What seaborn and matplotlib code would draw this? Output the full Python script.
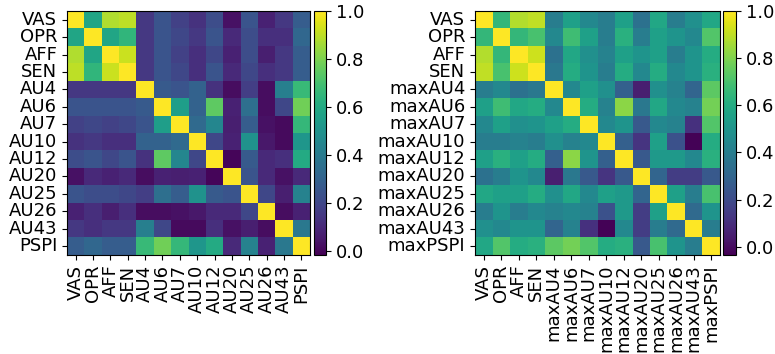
import numpy as np
import pandas as pd
import matplotlib
matplotlib.use("Agg")
import matplotlib.pyplot as plt
import seaborn as sns

labels_left = ["VAS", "OPR", "AFF", "SEN", "AU4", "AU6", "AU7", "AU10",
               "AU12", "AU20", "AU25", "AU26", "AU43", "PSPI"]
labels_right = ["VAS", "OPR", "AFF", "SEN", "maxAU4", "maxAU6", "maxAU7", "maxAU10",
                "maxAU12", "maxAU20", "maxAU25", "maxAU26", "maxAU43", "maxPSPI"]

# correlation of frame-level scores
corr_left = [
    [1.00, 0.58, 0.88, 0.90, 0.15, 0.25, 0.18, 0.13, 0.22, 0.03, 0.25, 0.08, 0.15, 0.28],
    [0.58, 1.00, 0.58, 0.65, 0.15, 0.25, 0.20, 0.15, 0.25, 0.10, 0.22, 0.12, 0.12, 0.32],
    [0.88, 0.58, 1.00, 0.92, 0.15, 0.25, 0.18, 0.12, 0.20, 0.08, 0.22, 0.07, 0.15, 0.28],
    [0.90, 0.65, 0.92, 1.00, 0.15, 0.25, 0.20, 0.12, 0.25, 0.10, 0.20, 0.12, 0.15, 0.28],
    [0.15, 0.15, 0.15, 0.15, 1.00, 0.27, 0.25, 0.30, 0.13, 0.02, 0.17, 0.02, 0.42, 0.67],
    [0.25, 0.25, 0.25, 0.25, 0.27, 1.00, 0.55, 0.30, 0.75, 0.08, 0.35, 0.02, 0.20, 0.78],
    [0.18, 0.20, 0.18, 0.20, 0.25, 0.55, 1.00, 0.33, 0.45, 0.07, 0.28, 0.03, 0.01, 0.66],
    [0.13, 0.15, 0.12, 0.12, 0.30, 0.30, 0.33, 1.00, 0.20, 0.08, 0.50, 0.05, 0.01, 0.52],
    [0.22, 0.25, 0.20, 0.25, 0.13, 0.75, 0.45, 0.20, 1.00, 0.00, 0.27, 0.10, 0.12, 0.60],
    [0.03, 0.10, 0.08, 0.10, 0.02, 0.08, 0.07, 0.08, 0.00, 1.00, 0.25, 0.10, 0.03, 0.10],
    [0.25, 0.22, 0.22, 0.20, 0.17, 0.35, 0.28, 0.50, 0.27, 0.25, 1.00, 0.20, 0.07, 0.43],
    [0.08, 0.12, 0.07, 0.12, 0.02, 0.02, 0.03, 0.05, 0.10, 0.10, 0.20, 1.00, 0.02, 0.08],
    [0.15, 0.12, 0.15, 0.15, 0.42, 0.20, 0.01, 0.01, 0.12, 0.03, 0.07, 0.02, 1.00, 0.39],
    [0.28, 0.32, 0.28, 0.28, 0.67, 0.78, 0.66, 0.52, 0.60, 0.10, 0.43, 0.08, 0.39, 1.00],
]

# correlation of video-level max scores
corr_right = [
    [1.00, 0.65, 0.88, 0.90, 0.40, 0.55, 0.45, 0.40, 0.55, 0.35, 0.58, 0.40, 0.48, 0.58],
    [0.65, 1.00, 0.65, 0.70, 0.45, 0.68, 0.55, 0.40, 0.62, 0.40, 0.55, 0.50, 0.45, 0.72],
    [0.88, 0.65, 1.00, 0.92, 0.35, 0.58, 0.48, 0.42, 0.55, 0.50, 0.55, 0.40, 0.50, 0.60],
    [0.90, 0.70, 0.92, 1.00, 0.38, 0.60, 0.50, 0.40, 0.60, 0.45, 0.60, 0.45, 0.50, 0.62],
    [0.40, 0.45, 0.35, 0.38, 1.00, 0.45, 0.55, 0.48, 0.28, 0.05, 0.48, 0.42, 0.30, 0.74],
    [0.55, 0.68, 0.58, 0.60, 0.45, 1.00, 0.60, 0.42, 0.82, 0.38, 0.58, 0.45, 0.42, 0.78],
    [0.45, 0.55, 0.48, 0.50, 0.55, 0.60, 1.00, 0.45, 0.50, 0.25, 0.45, 0.42, 0.11, 0.72],
    [0.40, 0.40, 0.42, 0.40, 0.48, 0.42, 0.45, 1.00, 0.28, 0.12, 0.55, 0.22, -0.03, 0.60],
    [0.55, 0.62, 0.55, 0.60, 0.28, 0.82, 0.50, 0.28, 1.00, 0.25, 0.52, 0.52, 0.45, 0.62],
    [0.35, 0.40, 0.50, 0.45, 0.05, 0.38, 0.25, 0.12, 0.25, 1.00, 0.30, 0.15, 0.15, 0.25],
    [0.58, 0.55, 0.55, 0.60, 0.48, 0.58, 0.45, 0.55, 0.52, 0.30, 1.00, 0.55, 0.40, 0.70],
    [0.40, 0.50, 0.40, 0.45, 0.42, 0.45, 0.42, 0.22, 0.52, 0.15, 0.55, 1.00, 0.32, 0.50],
    [0.48, 0.45, 0.50, 0.50, 0.30, 0.42, 0.11, -0.03, 0.45, 0.15, 0.40, 0.32, 1.00, 0.40],
    [0.58, 0.72, 0.60, 0.62, 0.74, 0.78, 0.72, 0.60, 0.62, 0.25, 0.70, 0.50, 0.40, 1.00],
]

cbar_ticks = [0.0, 0.2, 0.4, 0.6, 0.8, 1.0]

df_left = pd.DataFrame(corr_left, index=labels_left, columns=labels_left)
df_right = pd.DataFrame(corr_right, index=labels_right, columns=labels_right)

plt.rcParams['font.size'] = 13
fig = plt.figure(figsize=(7.75, 3.54), dpi=100)

ax1 = fig.add_axes([0.0865, 0.280, 0.3135, 0.689])
cax1 = fig.add_axes([0.405, 0.280, 0.0155, 0.689])
ax2 = fig.add_axes([0.613, 0.280, 0.316, 0.689])
cax2 = fig.add_axes([0.933, 0.280, 0.0168, 0.689])

panels = [(ax1, cax1, df_left, -0.015), (ax2, cax2, df_right, -0.035)]

for ax, cax, df, vmin in panels:
    sns.heatmap(df, ax=ax, cbar_ax=cax, cmap="viridis", vmin=vmin, vmax=1.0,
                xticklabels=True, yticklabels=True)
    for sp in ax.spines.values():
        sp.set_visible(True)
        sp.set_linewidth(0.8)
    ax.set_xticklabels(df.columns, rotation=90, fontsize=13)
    ax.set_yticklabels(df.index, rotation=0, fontsize=13)
    cbar = ax.collections[0].colorbar
    cbar.set_ticks(cbar_ticks)
    cbar.set_ticklabels(["%.1f" % t for t in cbar_ticks])
    cbar.ax.tick_params(labelsize=13)
    cbar.outline.set_visible(True)
    cbar.outline.set_linewidth(0.8)

fig.savefig("out.png", dpi=100)
